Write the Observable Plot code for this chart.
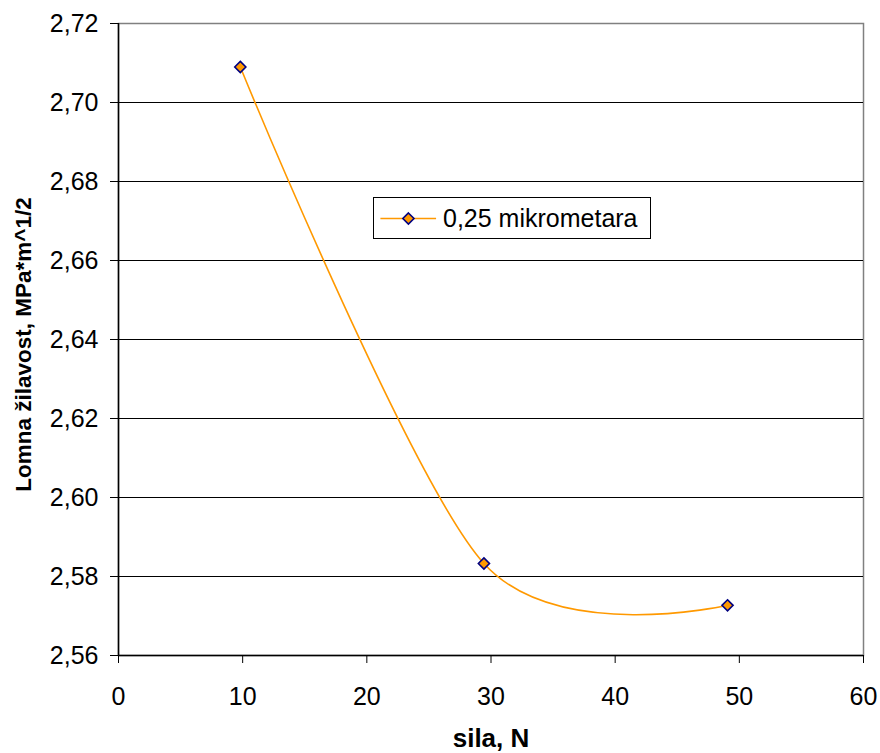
<!DOCTYPE html>
<html>
<head>
<meta charset="utf-8">
<script src="https://cdn.jsdelivr.net/npm/d3@7"></script>
<script src="https://cdn.jsdelivr.net/npm/@observablehq/plot@0.6"></script>
<style>
  html, body { margin: 0; padding: 0; background: #fff; }
  #wrap { position: relative; width: 880px; height: 753px; font-family: "Liberation Sans", Arial, sans-serif; }
  #legend { position: absolute; left: 373px; top: 197px; width: 278px; height: 42px; border: 1px solid #000; background: #fff; display: flex; align-items: center; box-sizing: border-box; }
  #legend span { font-size: 25px; color: #000; margin-left: 5px; }
</style>
</head>
<body>
<div id="wrap">
  <div id="chart"></div>
  <div id="legend"><svg width="64" height="20"></svg><span id="legtext"></span></div>
</div>
<script>
const sila = [9.81, 29.43, 49.05];
const zilavost = [2.709, 2.5833, 2.5727];
const seriesName = "0,25 mikrometara";
const xTicks = [0, 10, 20, 30, 40, 50, 60];
const yTicks = [2.56, 2.58, 2.60, 2.62, 2.64, 2.66, 2.68, 2.70, 2.72];
const xTitle = "sila, N";
const yTitle = "Lomna žilavost, MPa*m^1/2";

const data = sila.map((x, i) => ({x, y: zilavost[i]}));
const lineColor = "#FF9900";
const markStroke = "#000080";
const fmtY = d => d3.format(".2f")(d).replace(".", ",");

const chart = Plot.plot({
  width: 880,
  height: 753,
  marginLeft: 118,
  marginRight: 17,
  marginTop: 23,
  marginBottom: 98,
  style: {fontFamily: "Liberation Sans, Arial, sans-serif", background: "#fff", color: "#000"},
  x: {domain: [0, 60]},
  y: {domain: [2.56, 2.72]},
  marks: [
    Plot.frame({stroke: "#808080", strokeWidth: 1.5, strokeOpacity: 1}),
    Plot.gridY(yTicks.slice(1, -1), {stroke: "#000", strokeOpacity: 1, strokeWidth: 1}),
    Plot.axisY(yTicks, {tickSize: 8, tickPadding: 12, fontSize: 25, tickFormat: fmtY, label: null, stroke: "#000", strokeWidth: 1}),
    Plot.axisX(xTicks, {tickSize: 8, tickPadding: 24, fontSize: 25, tickFormat: d => String(d), label: null, stroke: "#000", strokeWidth: 1}),
    Plot.ruleY([2.56], {stroke: "#000", strokeWidth: 1.5}),
    Plot.ruleX([0], {stroke: "#000", strokeWidth: 1.5}),
    Plot.line(data, {x: "x", y: "y", curve: "cardinal", tension: 0.1, stroke: lineColor, strokeWidth: 1.6}),
    Plot.dot(data, {x: "x", y: "y", symbol: "diamond2", r: 5, fill: lineColor, stroke: markStroke, strokeWidth: 1.6}),
    Plot.text([xTitle], {frameAnchor: "bottom", dy: 91, text: d => d, fontSize: 26, fontWeight: "bold", fill: "#000"}),
    Plot.text([yTitle], {frameAnchor: "left", textAnchor: "middle", dx: -95, dy: 5, rotate: -90, text: d => d, fontSize: 22.5, fontWeight: "bold", fill: "#000"})
  ]
});
document.getElementById("chart").appendChild(chart);

// Legend swatch (line + diamond)
const leg = document.querySelector("#legend svg");
const sw = Plot.plot({
  width: 64, height: 20, margin: 0,
  x: {domain: [0, 1], axis: null}, y: {domain: [0, 1], axis: null},
  marks: [
    Plot.ruleY([0.5], {x1: 0.1, x2: 0.97, stroke: lineColor, strokeWidth: 1.6}),
    Plot.dot([0.5], {x: 0.53, y: 0.5, symbol: "diamond2", r: 5, fill: lineColor, stroke: markStroke, strokeWidth: 1.6})
  ]
});
leg.replaceWith(sw);
document.getElementById("legtext").textContent = seriesName;
</script>
</body>
</html>
